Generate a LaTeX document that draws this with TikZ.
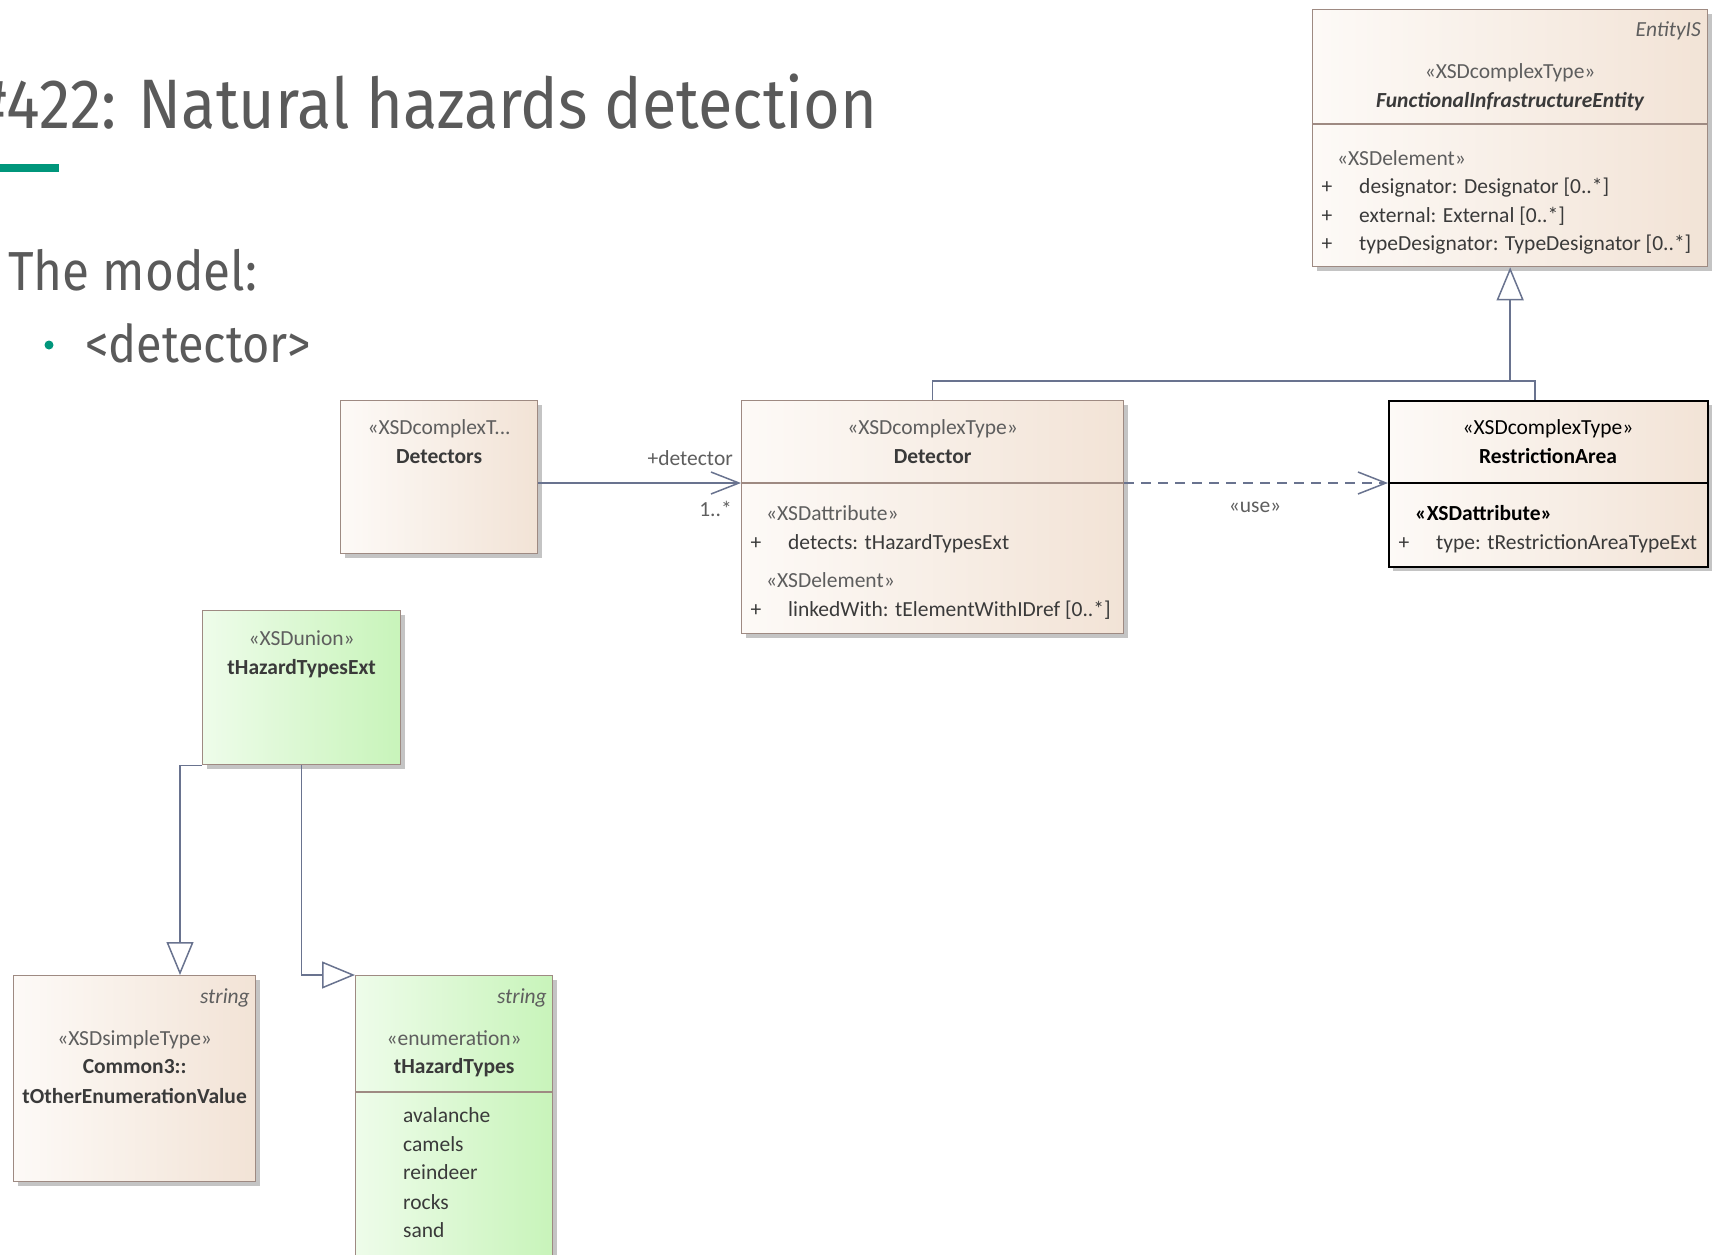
\documentclass[tikz,border=0pt]{standalone}
\usepackage{fontspec}
\setmainfont{Carlito}
\newfontfamily\titlefont[FakeStretch=0.9]{Fira Sans}
\usetikzlibrary{arrows.meta,shadows}

\definecolor{clsL}{HTML}{FDFAF7}
\definecolor{clsR}{HTML}{F2E3D6}
\definecolor{grnL}{HTML}{EEFCEA}
\definecolor{grnR}{HTML}{C8F4BA}
\definecolor{bordc}{HTML}{9E8A82}
\definecolor{linec}{HTML}{69738F}
\definecolor{txtc}{HTML}{3A3A3A}
\definecolor{stc}{HTML}{5E5E5E}
\definecolor{titc}{HTML}{5A5A5A}
\definecolor{tealc}{HTML}{00967B}
\definecolor{shadc}{HTML}{C4C4C4}

\begin{document}
\begin{tikzpicture}[x=1pt,y=-1pt,
  box/.style={draw=bordc, line width=1.3pt, left color=clsL, right color=clsR,
    inner sep=0pt, anchor=north west,
    drop shadow={shadow xshift=4pt, shadow yshift=-4pt, fill=shadc, opacity=1}},
  gbox/.style={box, left color=grnL, right color=grnR},
  selbox/.style={box, draw=black, line width=2pt},
  divider/.style={draw=bordc, line width=1.3pt},
  umlfont/.style={font=\fontsize{21.5}{25}\selectfont},
  st/.style={umlfont, text=stc, inner sep=0pt, text height=14pt, text depth=0pt},
  nm/.style={umlfont, text=txtc, inner sep=0pt, text height=14pt, text depth=0pt, font=\fontsize{21.5}{25}\selectfont\bfseries},
  attr/.style={st, text=txtc, anchor=west},
  plus/.style={st, text=txtc},
  conn/.style={draw=linec, line width=1.5pt},
  assoc/.style={conn, -{Straight Barb[length=28pt, width=22pt]}},
  dep/.style={assoc, dash pattern=on 10pt off 7pt},
  gen/.style={conn, -{Triangle[length=33pt, width=27pt, fill=white]}},
  lbl/.style={st}
]
\useasboundingbox (0,0) rectangle (1718,1255);
\clip (0,0) rectangle (1718,1255);

% ---------- slide text ----------
\node[anchor=base west, inner sep=0pt, text=titc, font=\titlefont\fontsize{70}{80}\selectfont] (title) at (-26,128) {\#422: Natural hazards detection};
\node[fill=tealc, minimum width=59pt, minimum height=8pt, anchor=north west, inner sep=0pt] (bar) at (0,164) {};
\node[anchor=base west, inner sep=0pt, text=titc, font=\titlefont\fontsize{55}{60}\selectfont] (model) at (8,290) {The model:};
\node[circle, fill=tealc, minimum size=9pt, inner sep=0pt] (bul) at (49,345) {};
\node[anchor=base west, inner sep=0pt, text=titc, font=\titlefont\fontsize{52}{60}\selectfont] (detitem) at (85,362) {<detector>};

% ---------- FunctionalInfrastructureEntity ----------
\node[box, minimum width=395pt, minimum height=257pt] (fie) at (1312,9) {};
\draw[divider] (fie.west |- 0,124) -- (fie.east |- 0,124);
\node[st, anchor=east] (fie-tag) at (1701,30) {\itshape EntityIS};
\node[st] (fie-st) at (fie.north |- 0,71) {«XSDcomplexType»};
\node[nm] (fie-nm) at (fie.north |- 0,100) {\bfseries\itshape FunctionalInfrastructureEntity};
\node[st, anchor=west] (fie-el) at (1337,158) {«XSDelement»};
\node[plus] (fie-p1) at (1327,186) {+};
\node[attr] (fie-a1) at (1359,186) {designator: Designator [0..*]};
\node[plus] (fie-p2) at (1327,215) {+};
\node[attr] (fie-a2) at (1359,215) {external: External [0..*]};
\node[plus] (fie-p3) at (1327,243) {+};
\node[attr] (fie-a3) at (1359,243) {typeDesignator: TypeDesignator [0..*]};

% ---------- Detectors ----------
\node[box, minimum width=197pt, minimum height=153pt] (dets) at (340,400) {};
\node[st] (dets-st) at (dets.north |- 0,427) {«XSDcomplexT...};
\node[nm] (dets-nm) at (dets.north |- 0,456) {Detectors};

% ---------- Detector ----------
\node[box, minimum width=382pt, minimum height=233pt] (dtr) at (741,400) {};
\coordinate (dtr-div) at (741,483);
\draw[divider] (dtr-div) -- (dtr.east |- dtr-div);
\node[st] (dtr-st) at (dtr.north |- 0,427) {«XSDcomplexType»};
\node[nm] (dtr-nm) at (dtr.north |- 0,456) {Detector};
\node[st, anchor=west] (dtr-s1) at (766,513) {«XSDattribute»};
\node[plus] (dtr-p1) at (756,542) {+};
\node[attr] (dtr-a1) at (788,542) {detects: tHazardTypesExt};
\node[st, anchor=west] (dtr-s2) at (766,580) {«XSDelement»};
\node[plus] (dtr-p2) at (756,609) {+};
\node[attr] (dtr-a2) at (788,609) {linkedWith: tElementWithIDref [0..*]};

% ---------- RestrictionArea ----------
\node[selbox, minimum width=319pt, minimum height=166pt] (ra) at (1388,400) {};
\draw[draw=black, line width=2pt] (ra.west |- dtr-div) -- (ra.east |- dtr-div);
\node[st, text=black] (ra-st) at (1548,427) {«XSDcomplexType»};
\node[nm, text=black] (ra-nm) at (1548,456) {RestrictionArea};
\node[st, anchor=west, text=black] (ra-s1) at (1415,513) {\bfseries «XSDattribute»};
\node[plus] (ra-p1) at (1404,542) {+};
\node[attr] (ra-a1) at (1436,542) {type: tRestrictionAreaTypeExt};

% ---------- tHazardTypesExt ----------
\node[gbox, minimum width=198pt, minimum height=154pt] (uni) at (202,610) {};
\node[st] (uni-st) at (uni.north |- 0,638) {«XSDunion»};
\node[nm] (uni-nm) at (uni.north |- 0,667) {tHazardTypesExt};

% ---------- tOtherEnumerationValue ----------
\node[box, minimum width=242pt, minimum height=206pt] (toe) at (13,975) {};
\node[st, anchor=east] (toe-tag) at (250,996) {\itshape string};
\node[st] (toe-st) at (toe.north |- 0,1038) {«XSDsimpleType»};
\node[nm] (toe-nm1) at (toe.north |- 0,1066) {Common3::};
\node[nm] (toe-nm2) at (toe.north |- 0,1096) {tOtherEnumerationValue};

% ---------- tHazardTypes ----------
\node[gbox, minimum width=197pt, minimum height=300pt] (tht) at (355,975) {};
\draw[divider] (tht.west |- 0,1092) -- (tht.east |- 0,1092);
\node[st, anchor=east] (tht-tag) at (547,996) {\itshape string};
\node[st] (tht-st) at (tht.north |- 0,1038) {«enumeration»};
\node[nm] (tht-nm) at (tht.north |- 0,1066) {tHazardTypes};
\node[attr] (tht-v1) at (403,1115) {avalanche};
\node[attr] (tht-v2) at (403,1144) {camels};
\node[attr] (tht-v3) at (403,1172) {reindeer};
\node[attr] (tht-v4) at (403,1202) {rocks};
\node[attr] (tht-v5) at (403,1230) {sand};

% ---------- connectors ----------
\draw[assoc] (dets.east |- dtr-div) -- (dtr-div);
\node[lbl, anchor=east] (l-role) at (733,458) {+detector};
\node[lbl, anchor=east] (l-mult) at (732,509) {1..*};

\draw[dep] (dtr.east |- dtr-div) -- (ra.west |- dtr-div);
\node[lbl] (l-use) at (1255,505) {«use»};

\coordinate (gj) at (fie.south |- 0,381);
\coordinate (ratop) at (1535,400);
\draw[conn] (dtr.north) -- (dtr.north |- gj) -- (ratop |- gj) -- (ratop);
\draw[gen] (gj) -- (fie.south);

\coordinate (toe-in) at (180,975);
\draw[gen] (uni.south west) -| (toe-in);
\draw[gen] (uni.south) |- (tht.north west);
\end{tikzpicture}
\end{document}
